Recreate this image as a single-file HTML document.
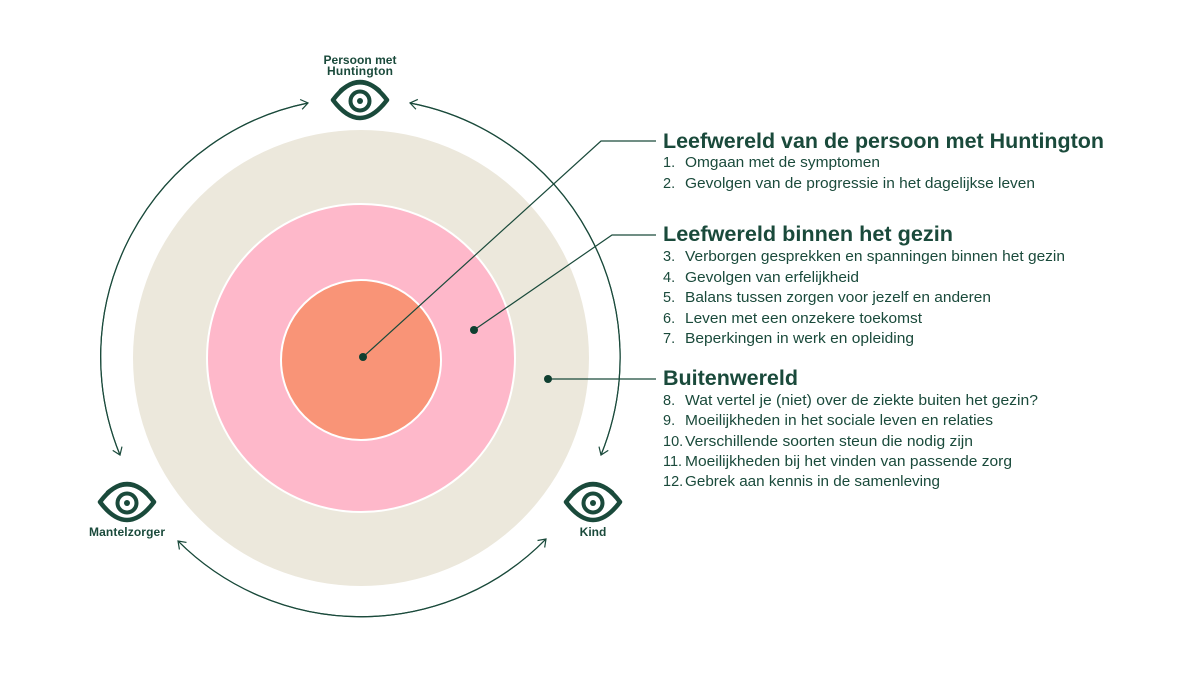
<!DOCTYPE html>
<html><head><meta charset="utf-8"><style>
html,body{margin:0;padding:0;background:#fff;width:1200px;height:675px;overflow:hidden}
svg{display:block}
text{font-family:"Liberation Sans",sans-serif;fill:#1a4a3b}
.h{font-size:21px;font-weight:bold}
.i{font-size:14.5px}
.l{font-size:12px;font-weight:bold}
</style></head><body>
<svg width="1200" height="675" viewBox="0 0 1200 675">
<defs>
<marker id="a" markerWidth="12" markerHeight="12" refX="9" refY="6" orient="auto" markerUnits="userSpaceOnUse">
<path d="M2,1 L9,6 L2,11" fill="none" stroke="#1a4a3b" stroke-width="1.2"/>
</marker>
<g id="eye">
<path d="M-27,0 Q0,-36 27,0 Q0,36 -27,0 Z" fill="none" stroke="#1a4a3b" stroke-width="4.5" stroke-linejoin="round"/>
<path d="M-20,-9 Q0,-26 20,-9" fill="none" stroke="#1a4a3b" stroke-width="4"/>
<circle cx="0" cy="1" r="9.5" fill="none" stroke="#1a4a3b" stroke-width="4"/>
<circle cx="0" cy="1" r="3" fill="#1a4a3b"/>
</g>
</defs>
<circle cx="361" cy="358" r="228" fill="#ece8dc"/>
<circle cx="361" cy="358" r="154" fill="#feb8ca" stroke="#fff" stroke-width="2"/>
<circle cx="361" cy="360" r="80" fill="#f99477" stroke="#fff" stroke-width="2"/>

<path d="M308,103 A259,259 0 0 0 120,455" fill="none" stroke="#1a4a3b" stroke-width="1.2" marker-end="url(#a)"/>
<path d="M120,455 A259,259 0 0 1 308,103" fill="none" stroke="#1a4a3b" stroke-width="1.2" marker-end="url(#a)"/>
<path d="M410,103 A259,259 0 0 1 601,455" fill="none" stroke="#1a4a3b" stroke-width="1.2" marker-end="url(#a)"/>
<path d="M601,455 A259,259 0 0 0 410,103" fill="none" stroke="#1a4a3b" stroke-width="1.2" marker-end="url(#a)"/>
<path d="M178,541 A259,259 0 0 0 546,539" fill="none" stroke="#1a4a3b" stroke-width="1.2" marker-end="url(#a)"/>
<path d="M546,539 A259,259 0 0 1 178,541" fill="none" stroke="#1a4a3b" stroke-width="1.2" marker-end="url(#a)"/>

<polyline points="363,357 601,141 656,141" fill="none" stroke="#1a4a3b" stroke-width="1.2"/>
<polyline points="474,330 612,235 656,235" fill="none" stroke="#1a4a3b" stroke-width="1.2"/>
<polyline points="548,379 656,379" fill="none" stroke="#1a4a3b" stroke-width="1.2"/>
<circle cx="363" cy="357" r="4" fill="#0f3f30"/>
<circle cx="474" cy="330" r="4" fill="#0f3f30"/>
<circle cx="548" cy="379" r="4" fill="#0f3f30"/>

<use href="#eye" x="360" y="100"/>
<use href="#eye" x="127" y="502"/>
<use href="#eye" x="593" y="502"/>
<text class="l" x="360" y="64" text-anchor="middle" textLength="73">Persoon met</text>
<text class="l" x="360" y="75" text-anchor="middle" textLength="66">Huntington</text>
<text class="l" x="127" y="536" text-anchor="middle" textLength="76">Mantelzorger</text>
<text class="l" x="593" y="536" text-anchor="middle">Kind</text>

<text class="h" x="663" y="148" textLength="441" lengthAdjust="spacingAndGlyphs">Leefwereld van de persoon met Huntington</text>
<text class="i" x="663" y="167">1.</text><text class="i" x="685" y="167" textLength="195" lengthAdjust="spacingAndGlyphs">Omgaan met de symptomen</text>
<text class="i" x="663" y="188">2.</text><text class="i" x="685" y="188" textLength="350" lengthAdjust="spacingAndGlyphs">Gevolgen van de progressie in het dagelijkse leven</text>

<text class="h" x="663" y="241" textLength="290" lengthAdjust="spacingAndGlyphs">Leefwereld binnen het gezin</text>
<text class="i" x="663" y="261">3.</text><text class="i" x="685" y="261" textLength="380" lengthAdjust="spacingAndGlyphs">Verborgen gesprekken en spanningen binnen het gezin</text>
<text class="i" x="663" y="282">4.</text><text class="i" x="685" y="282" textLength="174" lengthAdjust="spacingAndGlyphs">Gevolgen van erfelijkheid</text>
<text class="i" x="663" y="302">5.</text><text class="i" x="685" y="302" textLength="306" lengthAdjust="spacingAndGlyphs">Balans tussen zorgen voor jezelf en anderen</text>
<text class="i" x="663" y="323">6.</text><text class="i" x="685" y="323" textLength="237" lengthAdjust="spacingAndGlyphs">Leven met een onzekere toekomst</text>
<text class="i" x="663" y="343">7.</text><text class="i" x="685" y="343" textLength="229" lengthAdjust="spacingAndGlyphs">Beperkingen in werk en opleiding</text>

<text class="h" x="663" y="385" textLength="135" lengthAdjust="spacingAndGlyphs">Buitenwereld</text>
<text class="i" x="663" y="405">8.</text><text class="i" x="685" y="405" textLength="353" lengthAdjust="spacingAndGlyphs">Wat vertel je (niet) over de ziekte buiten het gezin?</text>
<text class="i" x="663" y="425">9.</text><text class="i" x="685" y="425" textLength="308" lengthAdjust="spacingAndGlyphs">Moeilijkheden in het sociale leven en relaties</text>
<text class="i" x="663" y="446">10.</text><text class="i" x="685" y="446" textLength="288" lengthAdjust="spacingAndGlyphs">Verschillende soorten steun die nodig zijn</text>
<text class="i" x="663" y="466">11.</text><text class="i" x="685" y="466" textLength="327" lengthAdjust="spacingAndGlyphs">Moeilijkheden bij het vinden van passende zorg</text>
<text class="i" x="663" y="486">12.</text><text class="i" x="685" y="486" textLength="255" lengthAdjust="spacingAndGlyphs">Gebrek aan kennis in de samenleving</text>
</svg>
</body></html>
